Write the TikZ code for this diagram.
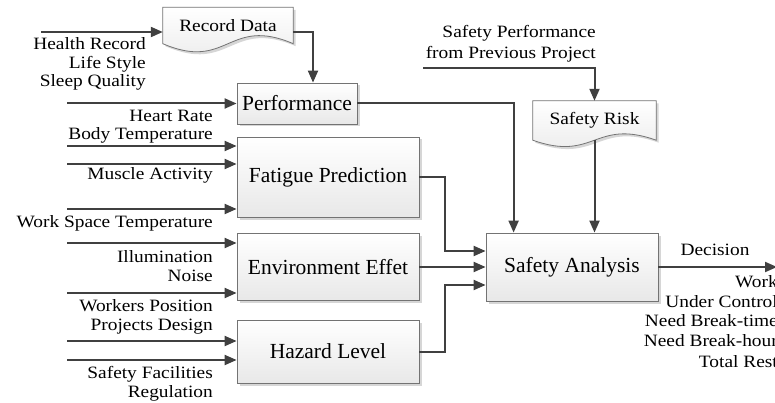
\documentclass[tikz,border=0pt]{standalone}
\usepackage{fontspec}
\setmainfont{Liberation Serif}
\newfontfamily\lblfont{Liberation Serif}[FakeStretch=1.12]
\usetikzlibrary{shadows,calc,arrows.meta,backgrounds}

\tikzset{
  conn/.style={draw=black!75, line width=2pt, -{Triangle[length=12pt,width=10pt]}},
  boxshade/.style={draw=black!55, line width=0.8pt, top color=white, bottom color=black!9,
    drop shadow={shadow xshift=2.5pt, shadow yshift=-2.5pt, fill=black!16, opacity=1}},
  procbox/.style={boxshade, inner sep=0pt, font=\fontsize{21.5}{22}\selectfont},
  docbox/.style={inner sep=0pt, font=\lblfont\fontsize{17.3}{18}\selectfont},
  lbl/.style={inner sep=0pt, anchor=base east, font=\lblfont\fontsize{17.3}{18}\selectfont},
}

\begin{document}
\begin{tikzpicture}[x=1pt,y=-1pt]
\useasboundingbox (0,0) rectangle (775,403);
\clip (0,0) rectangle (775,403);

% process boxes
\node[procbox, minimum width=120pt, minimum height=41pt] (perf) at (297,103.5) {Performance};
\node[procbox, minimum width=182pt, minimum height=80pt] (fat) at (328,177) {Fatigue Prediction};
\node[procbox, minimum width=182pt, minimum height=67pt] (env) at (328,267) {Environment Effet};
\node[procbox, minimum width=182pt, minimum height=63pt] (haz) at (328,351.5) {Hazard Level};
\node[procbox, minimum width=172pt, minimum height=68pt] (sa) at (572,267) {Safety Analysis};

% document shapes (outline drawn behind the text)
\node[docbox, minimum width=130pt, minimum height=36pt] (rec) at (228,25.5) {Record Data};
\node[docbox, minimum width=123pt, minimum height=39pt] (risk) at (594.5,120.5) {Safety Risk};
\begin{scope}[on background layer]
  \path[boxshade] (rec.north west) -- (rec.north east) -- (rec.south east)
    .. controls ($(rec.south)+(0,-28)$) and ($(rec.south)+(0,28)$) .. (rec.south west) -- cycle;
  \path[boxshade] (risk.north west) -- (risk.north east) -- (risk.south east)
    .. controls ($(risk.south)+(0,-22)$) and ($(risk.south)+(0,22)$) .. (risk.south west) -- cycle;
\end{scope}

% input start points
\coordinate (recin) at (41,32);
\coordinate (pin) at (67,103.5);
\coordinate (fin1) at (67,146);
\coordinate (fin2) at (67,164);
\coordinate (fin3) at (67,209);
\coordinate (ein1) at (67,243);
\coordinate (ein2) at (67,293);
\coordinate (hin1) at (67,341);
\coordinate (hin2) at (67,360);
\coordinate (spp) at (423,68);
\coordinate (dec) at (777,267);
\coordinate (sain1) at ($(sa.west)+(0,-16)$);
\coordinate (sain3) at ($(sa.west)+(0,18)$);

% input arrows
\draw[conn] (recin) -- (recin -| rec.west);
\draw[conn] (pin) -- (pin -| perf.west);
\draw[conn] (fin1) -- (fin1 -| fat.west);
\draw[conn] (fin2) -- (fin2 -| fat.west);
\draw[conn] (fin3) -- (fin3 -| fat.west);
\draw[conn] (ein1) -- (ein1 -| env.west);
\draw[conn] (ein2) -- (ein2 -| env.west);
\draw[conn] (hin1) -- (hin1 -| haz.west);
\draw[conn] (hin2) -- (hin2 -| haz.west);
\draw[conn] (spp) -| (risk.north);

% internal flow
\draw[conn] (recin -| rec.east) -| ($(perf.north)+(16,0)$);
\draw[conn] (perf.east) -| ($(sa.north west)+(28,0)$);
\draw[conn] (risk.south) -- (risk.south |- sa.north);
\draw[conn] (fat.east) -- ++(26,0) |- (sain1);
\draw[conn] (env.east) -- (sa.west);
\draw[conn] (haz.east) -- ++(26,0) |- (sain3);
\draw[conn] (sa.east) -- (dec);

% labels
\node[lbl] (l1) at (146,50) {Health Record};
\node[lbl] (l2) at (146,68.5) {Life Style};
\node[lbl] (l3) at (146,87) {Sleep Quality};
\node[lbl] (l4) at (213,122) {Heart Rate};
\node[lbl] (l5) at (213,139.5) {Body Temperature};
\node[lbl] (l6) at (213,180) {Muscle Activity};
\node[lbl] (l7) at (213,227) {Work Space Temperature};
\node[lbl] (l8) at (213,262) {Illumination};
\node[lbl] (l9) at (213,281) {Noise};
\node[lbl] (l10) at (213,311) {Workers Position};
\node[lbl] (l11) at (213,330) {Projects Design};
\node[lbl] (l12) at (213,378) {Safety Facilities};
\node[lbl] (l13) at (213,397) {Regulation};
\node[lbl] (l14) at (596,38) {Safety Performance};
\node[lbl] (l15) at (596,58.5) {from Previous Project};
\node[lbl, anchor=base] (l16) at (715,255) {Decision};
\node[lbl] (o1) at (778,287) {Work};
\node[lbl] (o2) at (778,307) {Under Control};
\node[lbl] (o3) at (778,326.5) {Need Break-time};
\node[lbl] (o4) at (778,346.5) {Need Break-hour};
\node[lbl] (o5) at (778,367) {Total Rest};
\end{tikzpicture}
\end{document}
